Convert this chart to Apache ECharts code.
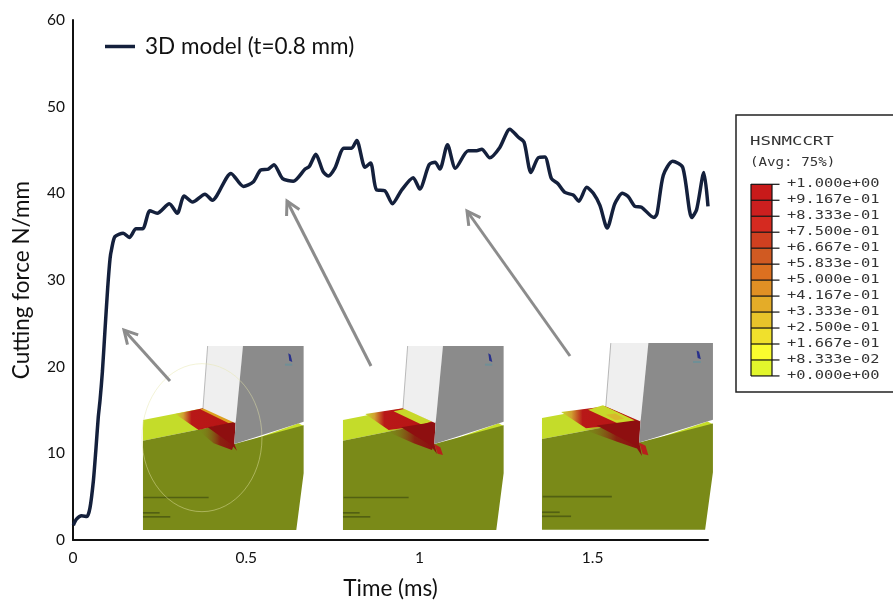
<!DOCTYPE html>
<html><head><meta charset="utf-8">
<style>html,body{margin:0;padding:0;background:#fff}#c{width:893px;height:601px}</style>
<script src="https://cdn.jsdelivr.net/npm/echarts@6/dist/echarts.min.js"></script>
</head><body><div id="c"></div>
<script>
const seriesName = '3D model (t=0.8 mm)';
const timeMs = [0.001,0.01,0.025,0.04,0.049,0.059,0.066,0.073,0.078,0.085,0.092,0.1,0.107,0.1116,0.121,0.145,0.1626,0.182,0.201,0.222,0.243,0.278,0.301,0.321,0.345,0.381,0.402,0.456,0.492,0.52,0.542,0.564,0.58,0.605,0.636,0.67,0.682,0.701,0.722,0.737,0.756,0.782,0.804,0.819,0.843,0.859,0.876,0.9,0.922,0.949,0.982,1.001,1.028,1.045,1.059,1.081,1.104,1.141,1.165,1.18,1.203,1.232,1.261,1.285,1.302,1.322,1.343,1.362,1.381,1.4,1.42,1.444,1.46,1.483,1.502,1.521,1.542,1.564,1.586,1.603,1.622,1.641,1.677,1.686,1.704,1.731,1.76,1.786,1.8,1.821,1.833];
const forceNmm = [1.7,2.4,2.8,2.7,3.7,6.9,10.4,14.2,16.1,19.5,24,29,32.5,33.6,35.0,35.4,34.9,35.9,35.9,38.0,37.7,38.8,37.7,39.7,39.0,39.9,39.2,42.3,40.8,41.3,42.7,42.8,43.3,41.7,41.4,42.8,43.1,44.5,42.5,42.0,42.9,45.2,45.2,46.1,43.0,43.5,40.4,40.3,38.8,40.4,41.8,40.5,43.3,43.6,42.8,45.6,42.9,44.9,44.9,45.1,44.1,45.3,47.4,46.5,45.9,42.4,44.1,44.2,41.7,41.1,40.1,39.8,39.1,40.7,40.0,38.6,36.0,38.8,40.0,39.6,38.5,38.4,37.2,37.7,42.1,43.7,43.0,37.2,38.1,42.4,38.5];
const colorbarTitle = ['HSNMCCRT','(Avg: 75%)'];
const colorbarLabels = ['+1.000e+00','+9.167e-01','+8.333e-01','+7.500e-01','+6.667e-01','+5.833e-01','+5.000e-01','+4.167e-01','+3.333e-01','+2.500e-01','+1.667e-01','+8.333e-02','+0.000e+00'];
const colorbarColors = ['#c81a1a','#cc1f1f','#d52a20','#d04020','#d05a22','#dc7020','#e09024','#e4ac28','#e8c42a','#f0e02c','#fafc2e','#e2f62c'];

const FONT = 'Lato, "Open Sans", sans-serif';
const MONO = '"DejaVu Sans Mono", monospace';
const g = [];

function poly(points, fill, extra){ return Object.assign({type:'polygon',shape:{points},style:{fill}},extra||{}); }
function hGrad(stops){ return {type:'linear',x:0,y:0,x2:1,y2:0,colorStops:stops.map(s=>({offset:s[0],color:s[1]}))}; }

function inset(x0,y0,sx,sy,stage,circle){
  const ch=[];
  // workpiece top (yellow) and body (olive)
  ch.push(poly([[38,240],[218,205],[316,248],[240,262],[38,302]],'#c4dc2a'));
  ch.push(poly([[350,305],[505,250],[520,258],[350,312]],'#c6de2a'));
  ch.push(poly([[38,302],[240,262],[312,312],[520,256],[520,400],[498,570],[38,570]],'#7a8a18'));
  // chip: stress band
  const bandL = [135,105,92][stage];
  ch.push(poly([[bandL,222],[218,205],[316,248],[240,262],[bandL+70,270]],
    hGrad([[0,'#c4dc2a'],[0.13,'#d0a030'],[0.27,'#b81818'],[1,'#b81414']])));
  // fade of the plastic zone into the body
  const fadeL = [205,165,150][stage];
  ch.push(poly([[fadeL,272],[240,262],[312,312],[305,330],[250,310]],
    hGrad([[0,'rgba(122,138,24,0)'],[0.6,'rgba(142,15,16,0.85)'],[1,'#8e0f10']])));
  if(stage===0){
    ch.push(poly([[210,208],[228,205],[315,248],[300,252]],'#dca020'));
  } else if(stage===1){
    ch.push(poly([[190,214],[225,206],[305,244],[275,254]],'#c8d82a'));
  } else {
    ch.push(poly([[168,215],[210,202],[300,247],[257,258]],'#c8d82a'));
    ch.push(poly([[218,230],[245,226],[270,242],[245,246]],'#d8b82c'));
  }
  // dark red shear zone under the tool tip
  const extra = [0,10,20][stage];
  ch.push(poly([[232-extra*2,262],[316,245],[312,312],[320,332+extra],[300,310+extra/2]],'#8e0f10'));
  if(stage>0) ch.push(poly([[312,312],[330,322],[338,340+extra/2],[322,336+extra/2]],'#b81f1c'));
  // tool faces
  ch.push(poly([[232,18],[338,18],[316,250],[218,205]],'#efefef'));
  ch.push({type:'line',shape:{x1:232,y1:18,x2:218,y2:205},style:{stroke:'#9a9a9a',lineWidth:2}});
  ch.push(poly([[338,18],[520,18],[520,245],[312,312],[316,250]],'#8b8b8b'));
  // triad
  ch.push(poly([[474,40],[481,44],[486,66],[477,62]],'#28308c'));
  ch.push({type:'rect',shape:{x:464,y:71,width:22,height:6},style:{fill:'#6f8f96'}});
  // small print
  [[40,470,195],[38,516,50],[38,528,82]].forEach(r=>ch.push({type:'rect',shape:{x:r[0],y:r[1],width:r[2],height:5},style:{fill:'#3d4a10',opacity:0.65}}));
  if(circle) ch.push({type:'ellipse',shape:{cx:215,cy:293,rx:180,ry:222},style:{fill:'none',stroke:'#e6e6a8',lineWidth:2,opacity:0.7}});
  return {type:'group',x:x0,y:y0,scaleX:sx/3,scaleY:sy/3,children:ch};
}
g.push(inset(130.3,340,1,1,0,true));
g.push(inset(330.3,340,1,1,1,false));
g.push(inset(528.5,337,1.064,1.014,2,false));

function arrow(x1,y1,x2,y2){
  const a=Math.atan2(y1-y2,x1-x2), L=15, w=0.5;
  return [
    {type:'line',shape:{x1,y1,x2,y2},style:{stroke:'#8c8c8c',lineWidth:3}},
    {type:'polyline',shape:{points:[[x2+L*Math.cos(a+w),y2+L*Math.sin(a+w)],[x2,y2],[x2+L*Math.cos(a-w),y2+L*Math.sin(a-w)]]},style:{stroke:'#8c8c8c',lineWidth:3,fill:'none'}}
  ];
}
g.push(...arrow(170,381,124,330),...arrow(371,366,287,201),...arrow(570,356,467,211));

// colour key
g.push({type:'rect',shape:{x:736,y:115,width:170,height:277},style:{fill:'#fff',stroke:'#222',lineWidth:1.5}});
colorbarColors.forEach((c,i)=>g.push({type:'rect',shape:{x:751,y:184.3+i*15.97,width:21,height:15.97},style:{fill:c}}));
colorbarLabels.forEach((t,i)=>{
  const y=184.3+i*15.97;
  g.push({type:'line',shape:{x1:751,y1:y,x2:779.5,y2:y},style:{stroke:'#111',lineWidth:1.2}});
  g.push({type:'text',x:787,y,scaleX:1.28,style:{text:t,font:'12px '+MONO,fill:'#333',verticalAlign:'middle',align:'left'}});
});
g.push({type:'line',shape:{x1:751,y1:184,x2:751,y2:376},style:{stroke:'#111',lineWidth:1.2}});
g.push({type:'line',shape:{x1:772,y1:184,x2:772,y2:376},style:{stroke:'#111',lineWidth:1.2}});
g.push({type:'text',x:750,y:142,scaleX:1.45,style:{text:colorbarTitle[0],font:'12px '+MONO,fill:'#333',verticalAlign:'middle'}});
g.push({type:'text',x:750,y:163,scaleX:1.18,style:{text:colorbarTitle[1],font:'12px '+MONO,fill:'#333',verticalAlign:'middle'}});

const chart = echarts.init(document.getElementById('c'),null,{renderer:'canvas'});
chart.setOption({
  animation:false,
  backgroundColor:'#fff',
  textStyle:{fontFamily:FONT},
  grid:{left:73,right:185,top:20,bottom:61,containLabel:false,outerBoundsMode:'none'},
  legend:{left:105,top:35,padding:0,itemWidth:30,itemHeight:4,itemGap:0,
    icon:'path://M0 0H30V3.5H0Z',
    data:[{name:seriesName}],
    textStyle:{fontFamily:FONT,fontSize:22.5,color:'#111',padding:[0,0,0,5]}},
  xAxis:{type:'value',min:0,max:1.833,interval:0.5,name:'Time (ms)',nameLocation:'middle',nameGap:37,
    nameTextStyle:{fontFamily:FONT,fontSize:22.5,color:'#111'},
    axisLine:{show:true,onZero:false,lineStyle:{color:'#111',width:2}},axisTick:{show:false},splitLine:{show:false},
    axisLabel:{color:'#111',fontSize:15.5,fontFamily:FONT,margin:10,showMaxLabel:false,hideOverlap:false}},
  yAxis:{type:'value',min:0,max:60,interval:10,name:'Cutting force N/mm',nameLocation:'middle',nameGap:40,
    nameTextStyle:{fontFamily:FONT,fontSize:22.5,color:'#111'},
    axisLine:{show:true,lineStyle:{color:'#111',width:2}},axisTick:{show:false},splitLine:{show:false},
    axisLabel:{color:'#111',fontSize:15.5,fontFamily:FONT,margin:8}},
  series:[{name:seriesName,type:'line',showSymbol:false,symbol:'none',smooth:0.25,
    lineStyle:{color:'#14203c',width:3.5},itemStyle:{color:'#14203c'},
    data:timeMs.map((t,i)=>[t,forceNmm[i]])}],
  graphic:g
});
</script></body></html>
